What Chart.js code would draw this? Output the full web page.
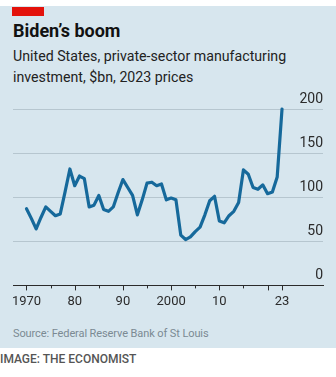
<!DOCTYPE html>
<html>
<head>
<meta charset="utf-8">
<script src="https://cdn.jsdelivr.net/npm/chart.js@4/dist/chart.umd.min.js"></script>
<style>
  html, body { margin: 0; padding: 0; background: #fff; }
  body { width: 336px; height: 377px; position: relative; overflow: hidden; font-family: Roboto, "Noto Sans", sans-serif; }
  #panel { position: absolute; left: 0; top: 6px; width: 336px; height: 342px; background: #d7e6ee; }
  #flag { position: absolute; left: 12px; top: 7px; width: 32px; height: 9px; background: #e3120b; }
  #title { position: absolute; left: 13px; top: 20px; font-size: 18px; font-weight: 700; color: #121212; }
  #subtitle { position: absolute; left: 13px; top: 46px; font-size: 14.2px; line-height: 21px; color: #222; }
  #source { position: absolute; left: 13px; top: 327px; font-size: 11px; letter-spacing: -0.1px; color: #7b8a93; }
  #credit { position: absolute; left: 0; top: 352px; font-size: 12px; font-weight: 500; color: #555; }
  #wrap { position: absolute; left: 0; top: 0; width: 336px; height: 377px; }
</style>
</head>
<body>
<div id="panel"></div>
<div id="flag"></div>
<div id="title">Biden’s boom</div>
<div id="subtitle">United States, private-sector manufacturing<br>investment, $bn, 2023 prices</div>
<div id="source">Source: Federal Reserve Bank of St Louis</div>
<div id="credit">IMAGE: THE ECONOMIST</div>
<div id="wrap"><canvas id="chart" width="336" height="377"></canvas></div>
<script>
// annual investment, $bn (2023 prices)
const years = [
  1970, 1971, 1972, 1973, 1974, 1975, 1976, 1977, 1978, 1979,
  1980, 1981, 1982, 1983, 1984, 1985, 1986, 1987, 1988, 1989,
  1990, 1991, 1992, 1993, 1994, 1995, 1996, 1997, 1998, 1999,
  2000, 2001, 2002, 2003, 2004, 2005, 2006, 2007, 2008, 2009,
  2010, 2011, 2012, 2013, 2014, 2015, 2016, 2017, 2018, 2019,
  2020, 2021, 2022, 2023,
];
const investment = [
  87, 76, 64, 77, 89, 84, 79, 81, 106, 132,
  113, 124, 121, 89, 91, 102, 86, 84, 89, 105,
  120, 111, 102, 80, 97, 116, 117, 113, 115, 97,
  99, 97, 57, 52, 55, 61, 66, 80, 96, 101,
  73, 71, 79, 84, 94, 131, 126, 111, 109, 114,
  104, 106, 123, 200,
];
const xTicks = [1970, 1975, 1980, 1985, 1990, 1995, 2000, 2005, 2010, 2015, 2020, 2023];
const xLabels = { 1970: "1970", 1980: "80", 1990: "90", 2000: "2000", 2010: "10", 2023: "23" };
const yTicks = [0, 50, 100, 150, 200];

const INK = "#2b2b2b";
const GRID = "#b6c6cf";
const LINE = "#16699b";

// short ticks every five years, longer ones on decades and the last year
const tickMarks = {
  id: "tickMarks",
  afterDraw(chart) {
    const { ctx, chartArea, scales } = chart;
    ctx.save();
    ctx.strokeStyle = INK;
    ctx.lineWidth = 1;
    xTicks.forEach((v) => {
      const x = Math.round(scales.x.getPixelForValue(v)) + 0.5;
      const len = (v % 10 === 0 || v === 2023) ? 5 : 3;
      ctx.beginPath();
      ctx.moveTo(x, chartArea.bottom);
      ctx.lineTo(x, chartArea.bottom + len);
      ctx.stroke();
    });
    ctx.restore();
  },
};

new Chart(document.getElementById("chart"), {
  type: "line",
  data: {
    datasets: [{
      data: years.map((y, i) => ({ x: y, y: investment[i] })),
      borderColor: LINE,
      borderWidth: 3.2,
      borderJoinStyle: "round",
      borderCapStyle: "round",
      pointRadius: 0,
      tension: 0,
      clip: false,
    }],
  },
  options: {
    responsive: false,
    animation: false,
    layout: { padding: { top: 109, left: 13, right: 13, bottom: 58 } },
    plugins: { legend: { display: false }, tooltip: { enabled: false } },
    scales: {
      x: {
        type: "linear",
        min: 1967.2,
        max: 2031.5,
        afterBuildTicks: (axis) => { axis.ticks = xTicks.map((v) => ({ value: v })); },
        grid: { drawOnChartArea: false, drawTicks: false },
        border: { display: true, color: INK, width: 1 },
        ticks: {
          padding: 9,
          maxRotation: 0,
          autoSkip: false,
          color: INK,
          font: { family: "Roboto", size: 13 },
          callback: (v) => xLabels[v] || "",
        },
      },
      y: {
        position: "right",
        min: 0,
        max: 200,
        afterBuildTicks: (axis) => { axis.ticks = yTicks.map((v) => ({ value: v })); },
        grid: {
          drawTicks: false,
          color: (c) => (c.tick && c.tick.value === 0 ? "rgba(0,0,0,0)" : GRID),
          lineWidth: 1,
        },
        border: { display: false },
        ticks: {
          mirror: true,
          padding: 0,
          labelOffset: -10,
          color: INK,
          font: { family: "Roboto", size: 14 },
        },
      },
    },
  },
  plugins: [tickMarks],
});
</script>
</body>
</html>
